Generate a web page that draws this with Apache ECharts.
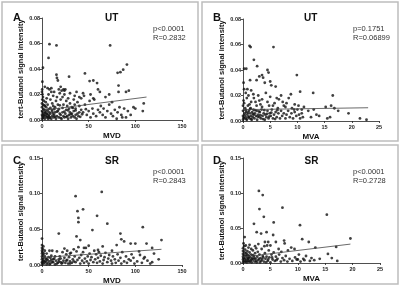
<!DOCTYPE html>
<html>
<head>
<meta charset="utf-8">
<script src="https://cdn.jsdelivr.net/npm/echarts@6/dist/echarts.min.js"></script>
<style>
  html, body { margin: 0; padding: 0; background: #fff; }
  #chart { width: 400px; height: 287px; }
</style>
</head>
<body>
<div id="chart"></div>
<script>
// ---- data ----
var yTitle = 'tert-Butanol signal intensity';

// panel A : UT, MVD
var utMvd = [
  [0,0.001],[0.5,0.003],[1,0.005],[1.5,0.002],[2,0.008],[2.5,0.004],[3,0.001],[3.5,0.006],[4,0.003],[4.5,0.010],
  [5,0.002],[5.5,0.005],[6,0.007],[6.5,0.001],[7,0.004],[7.5,0.003],[8,0.006],[8.5,0.002],[9,0.005],[10,0.001],
  [10.5,0.008],[11,0.003],[12,0.005],[12.5,0.002],[13,0.004],[14,0.006],[15,0.001],[16,0.003],[17,0.007],[18,0.002],
  [19,0.005],[20,0.004],[21,0.001],[22,0.006],[23,0.003],[24,0.002],[25,0.005],[26,0.008],[27,0.003],[28,0.001],
  [29,0.004],[30,0.006],[31,0.002],[32,0.005],[33,0.003],[34,0.007],[35,0.002],[36,0.004],[37,0.001],[38,0.005],
  [39,0.003],[40,0.006],[0,0.004],[0,0.007],[0,0.010],[0,0.013],[0.3,0.016],[0.5,0.020],[0.2,0.024],[1,0.012],
  [2,0.015],[1,0.018],[0,0.022],[3,0.011],[4,0.014],[5,0.017],[6,0.012],[7,0.020],[8,0.024],[9,0.016],
  [10,0.025],[11,0.013],[12,0.019],[13,0.022],[14,0.010],[15,0.015],[16,0.018],[17,0.012],[18,0.024],[19,0.021],
  [20,0.016],[21,0.023],[22,0.018],[23,0.012],[24,0.020],[25,0.024],[26,0.015],[27,0.011],[28,0.017],[29,0.009],
  [30,0.013],[32,0.010],[34,0.016],[35,0.012],[36,0.009],[38,0.014],[40,0.011],[42,0.008],[44,0.006],[45,0.019],
  [46,0.012],[48,0.004],[50,0.007],[51,0.015],[52,0.002],[54,0.009],[55,0.005],[56,0.016],[58,0.003],[60,0.008],
  [62,0.006],[63,0.011],[65,0.004],[66,0.009],[68,0.002],[70,0.007],[72,0.012],[74,0.005],[75,0.014],[76,0.003],
  [78,0.008],[80,0.001],[81,0.006],[83,0.010],[85,0.004],[86,0.002],[88,0.009],[90,0.002],[92,0.007],[95,0.004],
  [98,0.010],[100,0.009],[108,0.007],[109,0.013],[35,0.019],[37,0.022],[42,0.017],[44,0.021],[52,0.020],[55,0.017],
  [62,0.022],[68,0.018],[72,0.020],[82,0.022],[90,0.022],[93,0.023],
  [8,0.0595],[15.5,0.0585],[7,0.0487],[1,0.041],[0.4,0.030],[73,0.0585],[91,0.0435],[87,0.0395],[84,0.0375],[81,0.037],
  [46,0.0365],[15.5,0.0355],[16,0.033],[17,0.031],[29,0.034],[51,0.0305],[55,0.031],[59,0.029],[60,0.024],[82,0.027],
  [3,0.026],[6,0.025],[10,0.022],[20,0.026],[23,0.024],[24,0.023],[30,0.021],[40,0.018],
  [1,0.0015],[2,0.0035],[3,0.0055],[4,0.0075],[5,0.0045],[6,0.0025],[7,0.0085],[8,0.0015],[9,0.0095],[11,0.0065],
  [13,0.0085],[14,0.0025],[16,0.0065],[18,0.0085],[20,0.0015],[22,0.0095],[24,0.0065],[26,0.0025],[28,0.0075],[31,0.0045],
  [33,0.0095],[36,0.0075],[41,0.0025],[43,0.0045],[47,0.0085],[1.5,0.0085],[0.5,0.0065],[2.5,0.0115],[12,0.011],[19,0.0115]
];
var fitA = [[0,0.0075],[112,0.018]];

// panel B : UT, MVA
var utMva = [
  [1.2,0.059],[1.4,0.058],[5.6,0.058],[2,0.048],[2.6,0.043],[0.2,0.041],[0.6,0.041],[4.5,0.040],[4.7,0.038],[3.5,0.036],
  [3.7,0.034],[3.0,0.035],[4.0,0.030],[5.0,0.031],[5.2,0.028],[0.1,0.030],[1.3,0.032],[2.5,0.032],[9.9,0.036],[6.0,0.027],
  [10.5,0.023],[12.9,0.022],[16.5,0.020],[8.8,0.021],
  [0.2,0.025],[0.5,0.022],[0.8,0.025],[1.0,0.020],[1.5,0.024],[2.0,0.018],[2.3,0.015],[2.8,0.020],[3.2,0.013],[3.5,0.017],
  [4.2,0.022],[4.5,0.015],[5.0,0.019],[5.5,0.012],[5.8,0.014],[6.2,0.018],[6.6,0.017],[7.0,0.020],[7.3,0.015],[7.5,0.012],
  [8.0,0.014],[8.4,0.018],[9.0,0.010],[9.5,0.013],[10.2,0.012],[10.8,0.009],[11.2,0.011],[12,0.008],[13,0.009],[15.2,0.011],
  [16.2,0.012],[16.8,0.010],[17.5,0.008],[19.4,0.006],[15.5,0.002],[16.0,0.003],[21.5,0.002],[22.7,0.001],[12.5,0.003],[11.0,0.003],
  [14.0,0.004],[13.5,0.005],
  [0,0.001],[0,0.004],[0,0.008],[0,0.012],[0.1,0.016],[0.2,0.002],[0.3,0.006],[0.4,0.010],[0.5,0.003],[0.6,0.007],
  [0.7,0.001],[0.8,0.005],[0.9,0.012],[1.0,0.003],[1.1,0.008],[1.2,0.002],[1.3,0.006],[1.4,0.010],[1.5,0.004],[1.6,0.001],
  [1.7,0.007],[1.8,0.003],[1.9,0.009],[2.0,0.005],[2.1,0.002],[2.2,0.006],[2.4,0.004],[2.5,0.008],[2.6,0.001],[2.8,0.005],
  [3.0,0.003],[3.1,0.007],[3.3,0.002],[3.4,0.009],[3.6,0.004],[3.8,0.006],[4.0,0.001],[4.1,0.005],[4.3,0.003],[4.5,0.008],
  [4.7,0.002],[4.9,0.006],[5.1,0.004],[5.3,0.009],[5.5,0.002],[5.7,0.005],[6.0,0.007],[6.2,0.003],[6.5,0.006],[6.8,0.002],
  [7.0,0.008],[7.2,0.004],[7.5,0.006],[7.8,0.002],[8.0,0.005],[8.3,0.008],[8.6,0.003],[8.9,0.006],[9.2,0.002],[9.5,0.007],
  [9.8,0.004],[10.0,0.009],[10.3,0.005],[10.5,0.002],[10.8,0.006],[1.5,0.015],[2.5,0.012],[3.5,0.011],[4.8,0.012],[6.4,0.010],
  [7.8,0.011],[9.4,0.009],
  [0.1,0.0025],[0.3,0.0045],[0.5,0.0085],[0.6,0.0015],[0.9,0.0065],[1.1,0.0035],[1.3,0.0095],[1.5,0.0015],[1.8,0.0055],[2.2,0.0085],
  [2.7,0.0035],[2.9,0.0075],[3.2,0.0045],[3.7,0.0015],[3.9,0.0085],[4.4,0.0055],[4.8,0.0035],[5.2,0.0065],[5.9,0.0015],[6.3,0.0085],
  [0.2,0.014],[0.7,0.018],[1.2,0.013],[1.9,0.021],[3.0,0.016]
];
var fitB = [[0,0.0089],[23,0.0104]];

// panel C : SR, MVD
var srMvd = [
  [36,0.0965],[64,0.1025],[38,0.0755],[44,0.078],[39,0.066],[39,0.060],[59,0.069],[70,0.058],[18,0.044],[54,0.049],
  [37,0.040],[41,0.035],[84,0.044],[108,0.053],[128,0.035],[88,0.033],[95,0.030],[100,0.030],[112,0.030],[80,0.028],
  [85,0.036],[118,0.024],[105,0.014],[109,0.009],[125,0.008],[118,0.004],
  [0,0.037],[0,0.028],[0,0.024],[0,0.020],[0,0.016],[0,0.012],[0,0.008],[0,0.004],[0,0.001],[0.5,0.018],
  [1,0.014],[1,0.022],[1.5,0.010],[2,0.006],[2,0.002],[3,0.012],[4,0.005],[5,0.008],[5,0.001],[6,0.003],
  [7,0.011],[8,0.005],[9,0.002],[10,0.007],[11,0.020],[12,0.004],[13,0.009],[14,0.001],[15,0.006],[16,0.019],
  [17,0.003],[18,0.008],[19,0.012],[20,0.004],[21,0.002],[22,0.018],[23,0.006],[24,0.010],[25,0.003],[26,0.015],
  [27,0.007],[28,0.002],[29,0.011],[30,0.005],[31,0.017],[32,0.003],[33,0.008],[34,0.022],[35,0.012],[36,0.004],
  [37,0.019],[38,0.007],[39,0.025],[40,0.010],[41,0.002],[42,0.014],[43,0.006],[44,0.018],[45,0.003],[46,0.009],
  [47,0.024],[48,0.005],[49,0.012],[50,0.002],[51,0.016],[52,0.007],[53,0.011],[55,0.004],[56,0.020],[57,0.008],
  [58,0.015],[59,0.003],[60,0.010],[61,0.018],[62,0.005],[63,0.013],[65,0.002],[66,0.007],[67,0.011],[68,0.017],
  [70,0.004],[71,0.009],[72,0.014],[74,0.006],[75,0.002],[76,0.012],[78,0.008],[79,0.003],[81,0.015],[82,0.006],
  [84,0.010],[85,0.002],[86,0.018],[88,0.005],[90,0.012],[91,0.003],[93,0.008],[95,0.006],[96,0.015],[98,0.010],
  [99,0.002],[102,0.005],[104,0.019],[107,0.003],[110,0.011],[113,0.006],[116,0.002],[120,0.016],[24,0.023],[27,0.020],
  [30,0.016],[45,0.024],[50,0.027],[60,0.021],[65,0.026],[75,0.020],[5,0.016],[8,0.020],[10,0.013],[3,0.020],
  [0.5,0.003],[0.5,0.010],[1,0.006],[1.5,0.026],[2,0.016],[3,0.004],[4,0.009],[6,0.007],[8,0.001],[9,0.010],
  [11,0.004],[12,0.008],[14,0.012],[16,0.002],[18,0.005],[20,0.009],[22,0.003],[26,0.006],[30,0.002],[34,0.005]
];
var fitC = [[0,0.0105],[128,0.022]];

// panel D : SR, MVA
var srMva = [
  [2.9,0.103],[3.6,0.097],[3.0,0.077],[7.2,0.079],[2.0,0.056],[3.8,0.066],[5.6,0.058],[10.4,0.054],[15.3,0.069],[10.8,0.034],
  [12.0,0.030],[13.2,0.022],[19.6,0.035],[17.0,0.023],[2.5,0.044],[3.3,0.042],[4.3,0.044],[4.0,0.030],[4.6,0.030],[5.0,0.025],
  [5.5,0.040],[6.0,0.030],[7.5,0.032],[7.6,0.028],[7.0,0.016],[8.2,0.018],[8.8,0.022],[9.4,0.020],[0.3,0.037],[0.1,0.028],
  [0.5,0.025],[1.0,0.022],[1.5,0.020],[2.2,0.024],[2.8,0.027],[6.5,0.020],[10.2,0.012],[11.5,0.010],[12.5,0.007],[14.0,0.006],
  [15.5,0.013],[16.2,0.007],[17.2,0.003],[13.0,0.004],[9.8,0.005],[11.0,0.006],[12.2,0.003],
  [0,0.001],[0,0.005],[0,0.009],[0,0.013],[0,0.017],[0,0.021],[0.1,0.003],[0.2,0.007],[0.2,0.011],[0.3,0.015],
  [0.3,0.002],[0.4,0.006],[0.4,0.019],[0.5,0.010],[0.6,0.004],[0.6,0.014],[0.7,0.001],[0.8,0.008],[0.8,0.017],[0.9,0.003],
  [1.0,0.011],[1.0,0.006],[1.1,0.002],[1.2,0.015],[1.3,0.008],[1.4,0.004],[1.5,0.012],[1.6,0.001],[1.7,0.007],[1.8,0.018],
  [1.9,0.005],[2.0,0.010],[2.1,0.002],[2.2,0.014],[2.3,0.006],[2.4,0.003],[2.6,0.009],[2.7,0.016],[2.8,0.004],[3.0,0.012],
  [3.1,0.001],[3.2,0.007],[3.4,0.020],[3.5,0.005],[3.6,0.010],[3.8,0.002],[4.0,0.014],[4.1,0.006],[4.3,0.009],[4.5,0.003],
  [4.7,0.018],[4.8,0.008],[5.0,0.001],[5.2,0.012],[5.4,0.005],[5.6,0.015],[5.8,0.003],[6.0,0.009],[6.3,0.006],[6.6,0.012],
  [6.9,0.002],[7.2,0.007],[7.5,0.004],[7.8,0.010],[8.1,0.002],[8.5,0.006],[9.0,0.003],[9.5,0.008],[10.0,0.005],[10.5,0.002],
  [11.2,0.004],[3.9,0.024],[1.2,0.026],[2.4,0.021],[4.4,0.025],
  [0.1,0.007],[0.2,0.024],[0.5,0.002],[0.7,0.012],[0.9,0.006],[1.1,0.009],[1.3,0.002],[1.6,0.005],[1.8,0.011],[2.1,0.007],
  [2.5,0.001],[2.9,0.006],[3.3,0.003],[3.7,0.008],[4.2,0.001],[4.6,0.005],[5.3,0.008],[6.1,0.004]
];
var fitD = [[0,0.0085],[19.6,0.027]];

var panelLetters = ['A', 'B', 'C', 'D'];
var panelGroups = ['UT', 'UT', 'SR', 'SR'];
var panelStats = ['p<0.0001\nR=0.2832', 'p=0.1751\nR=0.06899', 'p<0.0001\nR=0.2843', 'p<0.0001\nR=0.2728'];
var xNames = ['MVD', 'MVA', 'MVD', 'MVA'];
var xMax = [150, 25, 150, 25];
var xStep = [50, 5, 50, 5];
var yMax = [0.08, 0.08, 0.15, 0.15];
var yStep = [0.02, 0.02, 0.05, 0.05];

var pointSets = [utMvd, utMva, srMvd, srMva];
var fitSets = [fitA, fitB, fitC, fitD];

// ---- layout ----
var grids = [
  { left: 42, top: 18, width: 140, height: 102 },
  { left: 243, top: 19, width: 136, height: 102 },
  { left: 42, top: 158, width: 140, height: 107 },
  { left: 243, top: 158, width: 137, height: 105 }
];
var boxes = [[2, 2], [202, 2], [2, 145], [202, 145]];

var dom = document.getElementById('chart');
var myChart = echarts.init(dom);

var font = 'Liberation Sans, Arial, sans-serif';
var xAxes = [], yAxes = [], series = [], titles = [], graphics = [];

for (var i = 0; i < 4; i++) {
    xAxes.push({
        gridIndex: i,
        type: 'value',
        min: 0,
        max: xMax[i],
        interval: xStep[i],
        name: xNames[i],
        nameLocation: 'middle',
        nameGap: 12,
        nameTextStyle: { fontFamily: font, fontSize: 8, fontWeight: 'bold', color: '#111' },
        splitLine: { show: false },
        axisLine: { lineStyle: { color: '#222', width: 0.8 } },
        axisTick: { length: 2, lineStyle: { color: '#222', width: 0.8 } },
        axisLabel: { fontFamily: font, fontSize: 5.5, fontWeight: 'bold', color: '#222', margin: 3 }
    });
    yAxes.push({
        gridIndex: i,
        type: 'value',
        min: 0,
        max: yMax[i],
        interval: yStep[i],
        name: yTitle,
        nameLocation: 'middle',
        nameRotate: 90,
        nameGap: 14,
        nameTextStyle: { fontFamily: font, fontSize: 7.5, fontWeight: 'bold', color: '#111' },
        splitLine: { show: false },
        axisLine: { show: true, lineStyle: { color: '#222', width: 0.8 } },
        axisTick: { show: true, length: 2, lineStyle: { color: '#222', width: 0.8 } },
        axisLabel: {
            fontFamily: font, fontSize: 5.5, fontWeight: 'bold', color: '#222', margin: 2,
            formatter: function(v) { return v.toFixed(2); }
        }
    });
    series.push({
        type: 'scatter',
        xAxisIndex: i,
        yAxisIndex: i,
        symbolSize: 2.8,
        itemStyle: { color: '#111' },
        data: pointSets[i]
    });
    series.push({
        type: 'line',
        xAxisIndex: i,
        yAxisIndex: i,
        showSymbol: false,
        lineStyle: { color: '#444', width: 0.8 },
        data: fitSets[i]
    });
    titles.push({
        text: panelLetters[i],
        left: boxes[i][0] + 6,
        top: boxes[i][1] + 5,
        textStyle: { fontFamily: font, fontSize: 11, fontWeight: 'bold', color: '#111' }
    });
    titles.push({
        text: panelGroups[i],
        left: grids[i].left + grids[i].width / 2 - 12,
        top: boxes[i][1] + 6,
        textStyle: { fontFamily: font, fontSize: 10, fontWeight: 'bold', color: '#111' }
    });
    titles.push({
        text: panelStats[i],
        left: boxes[i][0] + 146,
        top: boxes[i][1] + 17,
        textStyle: { fontFamily: font, fontSize: 7.5, fontWeight: 'normal', color: '#333', lineHeight: 9 }
    });
    graphics.push({
        type: 'rect',
        shape: { x: boxes[i][0], y: boxes[i][1], width: 196, height: 139 },
        style: { fill: 'none', stroke: '#bdbdbd', lineWidth: 1.5 },
        silent: true
    });
}

var option = {
    backgroundColor: '#fff',
    animation: false,
    title: titles,
    grid: grids,
    xAxis: xAxes,
    yAxis: yAxes,
    series: series,
    graphic: graphics
};
myChart.setOption(option);

window.addEventListener('resize', function() {
    myChart.resize();
});
</script>
</body>
</html>
